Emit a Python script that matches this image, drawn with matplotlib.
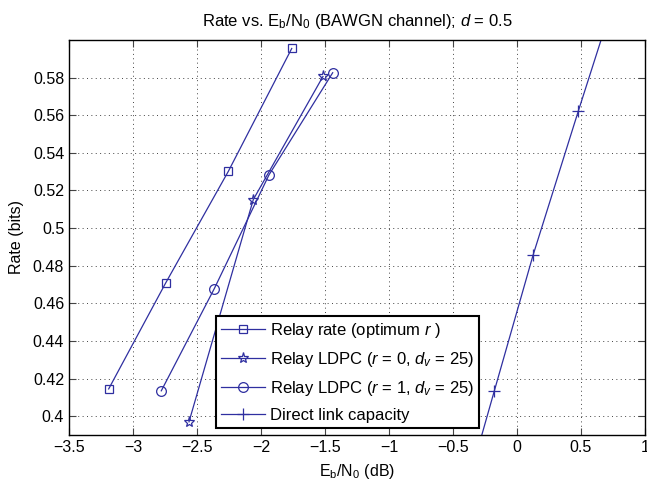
import matplotlib
matplotlib.use("Agg")
import matplotlib.pyplot as plt

plt.rcParams['font.family'] = ['Liberation Sans', 'DejaVu Sans']
plt.rcParams['mathtext.fontset'] = 'custom'
plt.rcParams['mathtext.rm'] = 'Liberation Sans'
plt.rcParams['mathtext.it'] = 'Liberation Sans:italic'
plt.rcParams['mathtext.bf'] = 'Liberation Sans:bold'

# Data
relay_opt_x = [-3.19, -2.745, -2.255, -1.76]
relay_opt_y = [0.4145, 0.4708, 0.5302, 0.5955]

ldpc_r0_x = [-2.5625, -2.06, -1.516]
ldpc_r0_y = [0.397, 0.5152, 0.5806]

ldpc_r1_x = [-2.779, -2.365, -1.9375, -1.44]
ldpc_r1_y = [0.4135, 0.4678, 0.5283, 0.5826]

direct_x = [-0.5, -0.177, 0.125, 0.479, 0.84]
direct_y = [0.336, 0.4135, 0.4855, 0.5622, 0.639]

labels = ['Relay rate (optimum $r$ )',
          'Relay LDPC ($r$ = 0, $d_v$ = 25)',
          'Relay LDPC ($r$ = 1, $d_v$ = 25)',
          'Direct link capacity']

xticks = [-3.5, -3, -2.5, -2, -1.5, -1, -0.5, 0, 0.5, 1]
yticks = [0.4, 0.42, 0.44, 0.46, 0.48, 0.5, 0.52, 0.54, 0.56, 0.58]

color = '#2f2fa0'

fig = plt.figure(figsize=(6.47, 4.96), dpi=100)
ax = fig.add_axes([69/647, 1-435/496, (645-69)/647, (435-40)/496])

ax.plot(relay_opt_x, relay_opt_y, color=color, lw=0.9, marker='s', ms=6,
        mfc='none', mec=color, mew=0.9, label=labels[0])
ax.plot(ldpc_r0_x, ldpc_r0_y, color=color, lw=0.9, marker='*', ms=8,
        mfc='none', mec=color, mew=0.9, label=labels[1])
ax.plot(ldpc_r1_x, ldpc_r1_y, color=color, lw=0.9, marker='o', ms=7,
        mfc='none', mec=color, mew=0.9, label=labels[2])
ax.plot(direct_x, direct_y, color=color, lw=0.9, marker='+', ms=8,
        mec=color, mew=0.9, label=labels[3])

ax.set_xlim(-3.5, 1)
ax.set_ylim(0.39, 0.6)
ax.set_xticks(xticks)
ax.set_yticks(yticks)
ax.set_xticklabels(['\u2212' + f'{abs(t):g}' if t < 0 else f'{t:g}' for t in xticks])
ax.set_yticklabels([f'{t:g}' for t in yticks])
ax.tick_params(direction='in', top=True, right=True, labelsize=11.5, length=5,
               width=0.8, color='#444444')
ax.grid(True, linestyle=(0, (1, 3.5)), color='#444444', linewidth=0.7)
for s in ax.spines.values():
    s.set_linewidth(1.0)

ax.set_xlabel(r'E$_{\mathrm{b}}$/N$_{\mathrm{0}}$ (dB)', fontsize=11.5, labelpad=5)
ax.set_ylabel('Rate (bits)', fontsize=11.5, labelpad=6)
ax.set_title(r'Rate vs. E$_{\mathrm{b}}$/N$_{\mathrm{0}}$ (BAWGN channel); $d$ = 0.5',
             fontsize=12, pad=10)

leg = ax.legend(loc='lower left', bbox_to_anchor=(0.256, 0.018), fontsize=12,
                frameon=True, fancybox=False, framealpha=1, edgecolor='black',
                handlelength=2.6, handletextpad=0.3, borderpad=0.3, labelspacing=0.6,
                borderaxespad=0)
leg.get_frame().set_linewidth(1.5)

fig.savefig('out.png', dpi=100)
